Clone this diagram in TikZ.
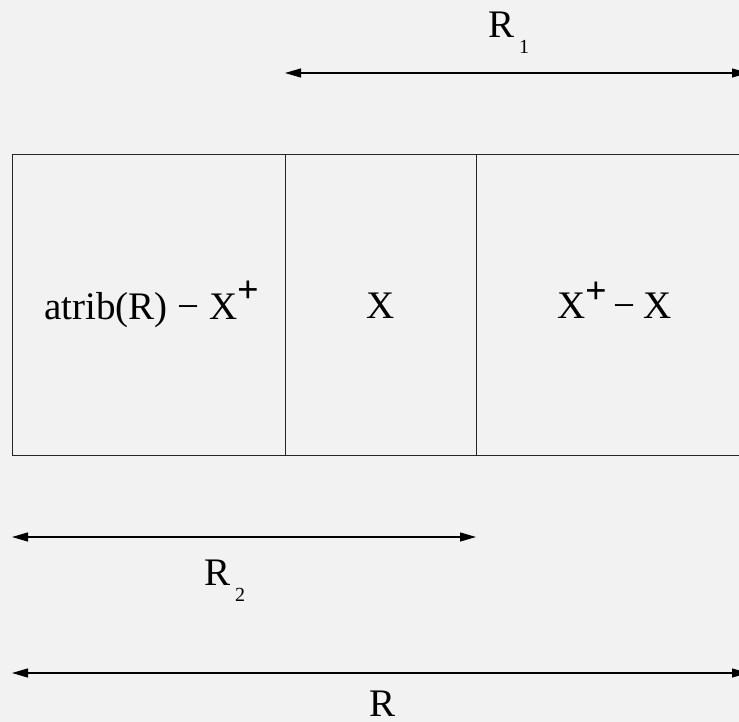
\documentclass[tikz,border=0pt]{standalone}
\usepackage{fontspec}
\setmainfont{Liberation Serif}
\usetikzlibrary{arrows.meta}
\definecolor{bg}{HTML}{F2F2F2}
\newcommand{\plussup}[1]{\raisebox{#1}{\fontsize{38}{40}\selectfont\bfseries +}}
\newcommand{\subdig}[1]{\hspace{5pt}\raisebox{-16pt}{\fontsize{20}{22}\selectfont #1}}
\begin{document}
\begin{tikzpicture}[x=1pt,y=-1pt,
  box/.style={draw=black!85,line width=1pt},
  dim/.style={draw=black,line width=1.2pt,{Triangle[length=16pt,width=9pt]}-{Triangle[length=16pt,width=9pt]}},
  lbl/.style={inner sep=0pt,anchor=base west,font=\fontsize{39}{41}\selectfont}]
\fill[bg] (0,0) rectangle (739,722);
\useasboundingbox (0,0) rectangle (739,722);
% box corners and dividers
\coordinate (tl) at (12,155);
\coordinate (br) at (748,455);
\coordinate (d1t) at (285,155);
\coordinate (d1b) at (285,455);
\coordinate (d2t) at (476,155);
\coordinate (d2b) at (476,455);
\draw[box] (tl) rectangle (br);
\draw[box] (d1t) -- (d1b);
\draw[box] (d2t) -- (d2b);
% texts
\node[lbl] (left) at (44,319) {atrib(R) − X\plussup{17pt}};
\node[lbl] (mid) at (366,318) {X};
\node[lbl] (right) at (557,318) {X\plussup{15pt}\hspace{6pt}−\hspace{8pt}X};
% dimension lines
\coordinate (r1a) at (285,73);
\coordinate (r1b) at (748,73);
\coordinate (r2a) at (12,537);
\coordinate (r2b) at (476,537);
\coordinate (ra) at (12,673);
\coordinate (rb) at (748,673);
\draw[dim] (r1a) -- (r1b);
\draw[dim] (r2a) -- (r2b);
\draw[dim] (ra) -- (rb);
\node[lbl] (lr1) at (488,38) {R\subdig{1}};
\node[lbl] (lr2) at (204,585) {R\subdig{2}};
\node[lbl] (lr) at (369,716) {R};
\end{tikzpicture}
\end{document}
